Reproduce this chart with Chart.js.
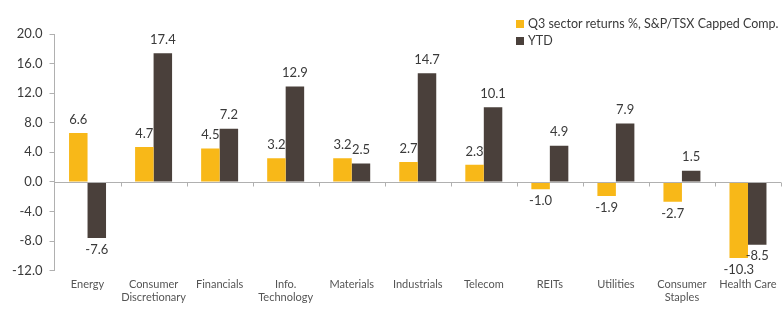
<!DOCTYPE html>
<html>
<head>
<meta charset="utf-8">
<script src="https://cdn.jsdelivr.net/npm/chart.js@4.4.1/dist/chart.umd.min.js"></script>
<style>
  html, body { margin: 0; padding: 0; background: #fff; }
  #wrap { position: relative; width: 784px; height: 323px; }
  #legend { position: absolute; left: 516px; top: 15px; white-space: nowrap; font-family: "Lato", "Open Sans", sans-serif; font-size: 12.5px; color: #3a3a3a; line-height: 17px; }
  #legend span.box { display: inline-block; width: 8px; height: 8px; margin-right: 4px; }
</style>
</head>
<body>
<div id="wrap">
  <canvas id="chart" width="784" height="323"></canvas>
  <div id="legend"></div>
</div>
<script>
const categories = [
    "Energy", ["Consumer", "Discretionary"], "Financials", ["Info.", "Technology"],
    "Materials", "Industrials", "Telecom", "REITs", "Utilities",
    ["Consumer", "Staples"], "Health Care"
];
const q3Returns = [6.6, 4.7, 4.5, 3.2, 3.2, 2.7, 2.3, -1.0, -1.9, -2.7, -10.3];
const ytdReturns = [-7.6, 17.4, 7.2, 12.9, 2.5, 14.7, 10.1, 4.9, 7.9, 1.5, -8.5];
const seriesNames = ["Q3 sector returns %, S&P/TSX Capped Comp.", "YTD"];
const seriesColors = ["#F8B818", "#4A403B"];

const axisGray = "#b0b0b0";

// value labels above / below each bar, plus little ticks on the zero line
const barLabels = {
    id: "barLabels",
    afterDatasetsDraw(chart) {
        const ctx = chart.ctx;
        ctx.save();
        ctx.font = "13px Lato, 'Open Sans', sans-serif";
        ctx.fillStyle = "#3a3a3a";
        ctx.textAlign = "center";
        chart.data.datasets.forEach((ds, i) => {
            chart.getDatasetMeta(i).data.forEach((bar, j) => {
                const v = ds.data[j];
                if (v >= 0) {
                    ctx.textBaseline = "bottom";
                    ctx.fillText(v.toFixed(1), bar.x, bar.y - 7);
                } else {
                    ctx.textBaseline = "top";
                    ctx.fillText(v.toFixed(1), bar.x, bar.y + 5);
                }
            });
        });
        // zero line with category ticks
        const x = chart.scales.x, y = chart.scales.y;
        const y0 = Math.round(y.getPixelForValue(0)) + 0.5;
        ctx.strokeStyle = axisGray;
        ctx.lineWidth = 1;
        ctx.beginPath();
        ctx.moveTo(chart.chartArea.left, y0);
        ctx.lineTo(chart.chartArea.right, y0);
        const half = (x.getPixelForValue(1) - x.getPixelForValue(0)) / 2;
        for (let k = 0; k < categories.length; k++) {
            const tx = Math.round(x.getPixelForValue(k) + half) + 0.5;
            ctx.moveTo(tx, y0);
            ctx.lineTo(tx, y0 + 4);
        }
        ctx.stroke();
        ctx.restore();
    }
};

new Chart(document.getElementById("chart"), {
    type: "bar",
    data: {
        labels: categories,
        datasets: [
            { label: seriesNames[0], data: q3Returns, backgroundColor: seriesColors[0] },
            { label: seriesNames[1], data: ytdReturns, backgroundColor: seriesColors[1] }
        ]
    },
    options: {
        responsive: false,
        animation: false,
        layout: { padding: { top: 34, bottom: 12, left: 5, right: 3 } },
        datasets: { bar: { categoryPercentage: 0.56, barPercentage: 1.0 } },
        plugins: { legend: { display: false }, tooltip: { enabled: false } },
        scales: {
            x: {
                grid: { display: false, drawTicks: false },
                border: { display: false },
                ticks: {
                    color: "#555",
                    font: { family: "Lato, 'Open Sans', sans-serif", size: 11 },
                    padding: 7,
                    maxRotation: 0,
                    autoSkip: false
                }
            },
            y: {
                min: -12,
                max: 20,
                grid: { drawOnChartArea: false, tickLength: 5, color: axisGray },
                border: { color: axisGray },
                ticks: {
                    stepSize: 4,
                    color: "#3a3a3a",
                    font: { family: "Lato, 'Open Sans', sans-serif", size: 13 },
                    padding: 7,
                    callback: v => v.toFixed(1)
                }
            }
        }
    },
    plugins: [barLabels]
});

const legend = document.getElementById("legend");
seriesNames.forEach((name, i) => {
    const row = document.createElement("div");
    row.innerHTML = `<span class="box" style="background:${seriesColors[i]}"></span>${name}`;
    legend.appendChild(row);
});
</script>
</body>
</html>
